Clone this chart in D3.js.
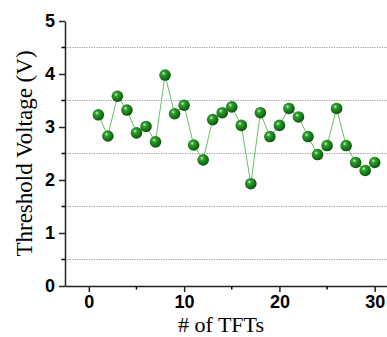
<!DOCTYPE html>
<html>
<head>
<meta charset="utf-8">
<script src="https://cdn.jsdelivr.net/npm/d3@7"></script>
<style>
  body { margin: 0; background: #fff; }
  svg { display: block; }
</style>
</head>
<body>
<svg width="387" height="337"></svg>
<script>
const tftIndex = d3.range(1, 31)
const thresholdV = [3.23, 2.83, 3.58, 3.32, 2.89, 3.01, 2.72, 3.98, 3.25, 3.41,
  2.66, 2.38, 3.14, 3.27, 3.38, 3.03, 1.93, 3.27, 2.82, 3.03,
  3.35, 3.19, 2.82, 2.48, 2.65, 3.35, 2.65, 2.33, 2.18, 2.33]
const xTicks = [0, 10, 20, 30]
const xMinor = [5, 15, 25]
const yTicks = [0, 1, 2, 3, 4, 5]
const yGrid = [0.5, 1.5, 2.5, 3.5, 4.5]

const svg = d3.select('svg')
const x = d3.scaleLinear().domain([-2.5, 31.5]).range([65, 389])
const y = d3.scaleLinear().domain([0, 5]).range([286, 21])

const defs = svg.append('defs')
const grad = defs.append('radialGradient')
  .attr('id', 'ball').attr('cx', '38%').attr('cy', '35%').attr('r', '65%')
grad.append('stop').attr('offset', '0%').attr('stop-color', '#d8f5d0')
grad.append('stop').attr('offset', '25%').attr('stop-color', '#2fa22f')
grad.append('stop').attr('offset', '100%').attr('stop-color', '#0a560a')

// dotted grid
svg.append('g').selectAll('line')
  .data(yGrid)
  .enter().append('line')
  .attr('x1', x.range()[0]).attr('x2', 387)
  .attr('y1', (d) => y(d)).attr('y2', (d) => y(d))
  .attr('stroke', '#9a9a9a').attr('stroke-width', 1.2)
  .attr('stroke-dasharray', '1.2,1.2')

// axes
const xAxis = svg.append('g')
  .attr('transform', 'translate(0,' + y(0) + ')')
  .call(d3.axisBottom(x).tickValues(xTicks).tickFormat(d3.format('d'))
    .tickSize(6).tickPadding(3).tickSizeOuter(0))
xAxis.append('g').selectAll('line')
  .data(xMinor)
  .enter().append('line')
  .attr('x1', (d) => x(d)).attr('x2', (d) => x(d))
  .attr('y1', 0).attr('y2', 3.5).attr('stroke', '#000').attr('stroke-width', 1.5)

const yAxis = svg.append('g')
  .attr('transform', 'translate(' + x.range()[0] + ',0)')
  .call(d3.axisLeft(y).tickValues(yTicks).tickFormat(d3.format('d'))
    .tickSize(6).tickPadding(4).tickSizeOuter(0))
yAxis.append('g').selectAll('line')
  .data(yGrid)
  .enter().append('line')
  .attr('x1', 0).attr('x2', -3.5)
  .attr('y1', (d) => y(d)).attr('y2', (d) => y(d))
  .attr('stroke', '#000').attr('stroke-width', 1.5)

svg.selectAll('.domain, .tick line').attr('stroke', '#222').attr('stroke-width', 1.5)
svg.selectAll('.tick text')
  .attr('font-family', '"Liberation Sans", Arial, sans-serif')
  .attr('font-weight', 'bold').attr('font-size', 18).attr('fill', '#000')

// axis titles
svg.append('text')
  .attr('x', 221).attr('y', 332)
  .attr('text-anchor', 'middle')
  .attr('font-family', '"Liberation Serif", "Times New Roman", serif')
  .attr('font-size', 22)
  .text('# of TFTs')

svg.append('text')
  .attr('transform', 'translate(32,' + y(2.5) + ') rotate(-90)')
  .attr('text-anchor', 'middle')
  .attr('font-family', '"Liberation Serif", "Times New Roman", serif')
  .attr('font-size', 23)
  .text('Threshold Voltage (V)')

// line and markers
const pts = tftIndex.map((d, i) => [d, thresholdV[i]])
svg.append('path')
  .datum(pts)
  .attr('fill', 'none').attr('stroke', '#6cbf6c').attr('stroke-width', 1)
  .attr('d', d3.line().x((d) => x(d[0])).y((d) => y(d[1])))

svg.append('g').selectAll('circle')
  .data(pts)
  .enter().append('circle')
  .attr('cx', (d) => x(d[0])).attr('cy', (d) => y(d[1]))
  .attr('r', 5.8)
  .attr('fill', 'url(#ball)')
</script>
</body>
</html>
